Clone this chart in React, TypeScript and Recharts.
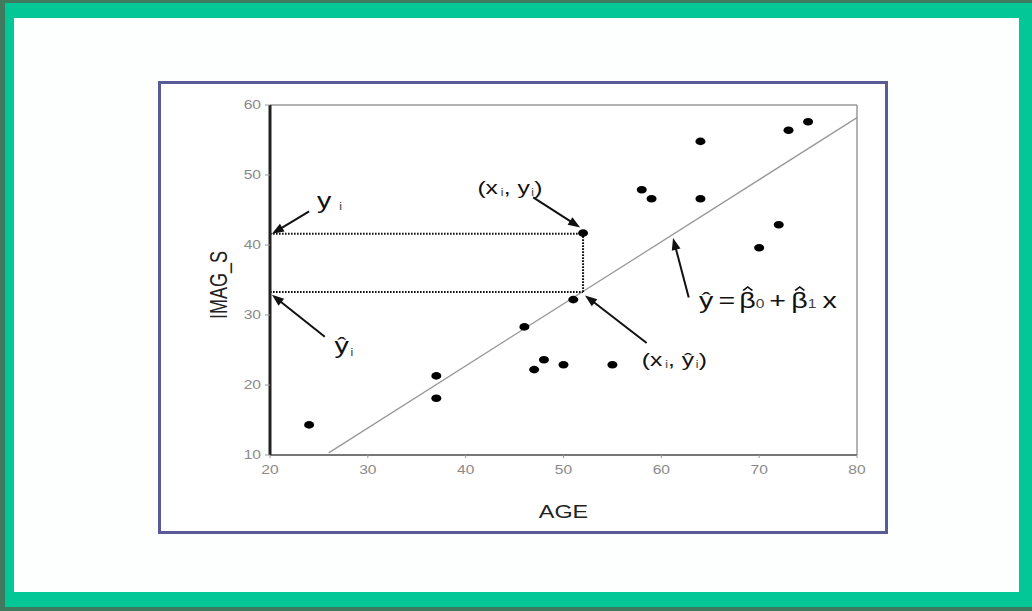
import React from "react";
import { ScatterChart, Scatter, XAxis, YAxis, ReferenceLine, ReferenceDot } from "recharts";

const ages = [24, 37, 37, 46, 47, 48, 50, 51, 52, 55, 58, 59, 64, 64, 70, 72, 73, 75];
const imagS = [14.3, 21.3, 18.1, 28.3, 22.2, 23.6, 22.9, 32.2, 41.7, 22.9, 47.9, 46.6, 54.8, 46.6, 39.6, 42.9, 56.4, 57.6];

const xTicks = [20, 30, 40, 50, 60, 70, 80];
const yTicks = [10, 20, 30, 40, 50, 60];

// fitted line end points
const fitLine = [
  { x: 26, y: 10.3 },
  { x: 80, y: 58.2 },
];

// highlighted observation
const xi = 52;
const yi = 41.6;
const yHat = 33.3;

// arrows: from -> to, in data units
const arrows = [
  { id: "yi", from: [24.0, 44.8], to: [20.2, 41.6] },
  { id: "yhat", from: [25.6, 26.9], to: [20.2, 32.9] },
  { id: "pt", from: [46.9, 46.8], to: [51.7, 42.5] },
  { id: "pthat", from: [58.5, 26.0], to: [52.2, 32.8] },
  { id: "fit", from: [62.8, 32.5], to: [61.2, 41.0] },
];

// text anchors (baseline start), in data units
const labelAnchors = [
  { id: "yi", x: 24.8, y: 45.3 },
  { id: "yhat", x: 26.6, y: 24.6 },
  { id: "pt", x: 41.2, y: 47.3 },
  { id: "pthat", x: 58.0, y: 22.7 },
  { id: "fit", x: 63.85, y: 31.0 },
];

const FONT = "'Liberation Sans', Arial, sans-serif";
const STRETCH = 1.3;

const points = ages.map((x, i) => ({ x, y: imagS[i] }));

function Dot(p: any) {
  return <ellipse cx={p.cx} cy={p.cy} rx={5} ry={3.8} fill="#000" />;
}

function XTick({ x, y, payload }: any) {
  return (
    <text
      transform={`translate(${x},${y + 13.5}) scale(${STRETCH},1)`}
      textAnchor="middle"
      fontSize={12}
      fill="#8a8a8a"
      fontFamily={FONT}
    >
      {payload.value}
    </text>
  );
}

function YTick({ x, y, payload }: any) {
  return (
    <text
      transform={`translate(${x - 1},${y + 4.3}) scale(${STRETCH},1)`}
      textAnchor="end"
      fontSize={12}
      fill="#8a8a8a"
      fontFamily={FONT}
    >
      {payload.value}
    </text>
  );
}

function Arrow(p: any) {
  const { x1, y1, x2, y2 } = p;
  const dx = x2 - x1;
  const dy = y2 - y1;
  const len = Math.hypot(dx, dy) || 1;
  const ux = dx / len;
  const uy = dy / len;
  const L = 12;
  const W = 4.5;
  const bx = x2 - ux * L;
  const by = y2 - uy * L;
  const head = `${x2},${y2} ${bx - uy * W},${by + ux * W} ${bx + uy * W},${by - ux * W}`;
  return (
    <g>
      <line x1={x1} y1={y1} x2={bx + ux * 2} y2={by + uy * 2} stroke="#111" strokeWidth={2} />
      <polygon points={head} fill="#111" />
    </g>
  );
}

const sub = { fontSize: 11, fill: "#555" };

// hat drawn as a small chevron centred at cx
function hat(cx: number) {
  return (
    <path
      d={`M${cx - 3.6},-17.5 L${cx},-21 L${cx + 3.6},-17.5`}
      fill="none"
      stroke="#111"
      strokeWidth={1.4}
    />
  );
}

function Formula() {
  return (
    <g fill="#111">
      <text x={0} fontSize={22}>ŷ</text>
      <text x={15} fontSize={22}>=</text>
      <text x={31} fontSize={22}>β</text>
      {hat(37.5)}
      <text x={43.6} fontSize={12} fill="#444">0</text>
      <text x={54} fontSize={22}>+</text>
      <text x={71} fontSize={22}>β</text>
      {hat(77.5)}
      <text x={83.6} fontSize={12} fill="#444">1</text>
      <text x={95} fontSize={22}>x</text>
    </g>
  );
}

function labelBody(id: string) {
  switch (id) {
    case "yi":
      return (
        <text fontSize={22} fill="#111">
          <tspan>y</tspan>
          <tspan dx={6} dy={2} {...sub}>i</tspan>
        </text>
      );
    case "yhat":
      return (
        <text fontSize={22} fill="#111">
          <tspan>ŷ</tspan>
          <tspan dx={1} dy={3} {...sub}>i</tspan>
        </text>
      );
    case "pt":
      return (
        <text fontSize={19} fill="#111">
          <tspan>(x</tspan>
          <tspan dx={2} dy={2} {...sub}>i</tspan>
          <tspan dy={-2}>, y</tspan>
          <tspan dx={1} dy={2} {...sub}>i</tspan>
          <tspan dy={-2}>)</tspan>
        </text>
      );
    case "pthat":
      return (
        <text fontSize={19} fill="#111">
          <tspan>(x</tspan>
          <tspan dx={2} dy={2} {...sub}>i</tspan>
          <tspan dy={-2}>, ŷ</tspan>
          <tspan dx={1} dy={2} {...sub}>i</tspan>
          <tspan dy={-2}>)</tspan>
        </text>
      );
    default:
      return <Formula />;
  }
}

function makeLabel(id: string) {
  return (p: any) => (
    <g transform={`translate(${p.cx},${p.cy}) scale(${STRETCH},1)`} fontFamily={FONT}>
      {labelBody(id)}
    </g>
  );
}

function YTitle(props: any) {
  const vb = props.viewBox || { x: 49, y: 21, width: 60, height: 350 };
  const cx = vb.x + 9;
  const cy = vb.y + vb.height / 2 + 5;
  return (
    <text
      transform={`translate(${cx},${cy}) scale(${STRETCH},1) rotate(-90)`}
      textAnchor="middle"
      dy={6}
      fontSize={18}
      fill="#222"
      fontFamily={FONT}
    >
      IMAG_S
    </text>
  );
}

function XTitle(props: any) {
  const vb = props.viewBox || { x: 109, y: 371, width: 587, height: 66 };
  return (
    <text
      transform={`translate(${vb.x + vb.width / 2},${vb.y + 63}) scale(${STRETCH},1)`}
      textAnchor="middle"
      fontSize={18}
      fill="#222"
      fontFamily={FONT}
    >
      AGE
    </text>
  );
}

export default function App() {
  return (
    <div style={{ position: "absolute", left: 0, top: 0, width: 1032, height: 611, background: "#3f7a5e", overflow: "hidden" }}>
      <div style={{ position: "absolute", left: 5, top: 3, right: 0, bottom: 4, background: "#03c796" }} />
      <div style={{ position: "absolute", left: 14, top: 18, width: 1005, height: 574, background: "#fdfffe" }} />
      <div
        style={{
          position: "absolute",
          left: 158,
          top: 81,
          width: 730,
          height: 453,
          boxSizing: "border-box",
          border: "3px solid #5a5a96",
          background: "#fff",
        }}
      >
        <ScatterChart width={724} height={447} margin={{ top: 21, right: 28, bottom: 10, left: 49 }}>
          <XAxis
            type="number"
            dataKey="x"
            domain={[20, 80]}
            ticks={xTicks}
            interval={0}
            tickSize={3}
            tickLine={{ stroke: "#999" }}
            axisLine={{ stroke: "#777", strokeWidth: 2 }}
            tick={XTick}
            height={66}
            label={XTitle}
          />
          <YAxis
            type="number"
            dataKey="y"
            domain={[10, 60]}
            ticks={yTicks}
            interval={0}
            tickSize={5}
            tickMargin={3}
            tickLine={{ stroke: "#999" }}
            axisLine={{ stroke: "#222", strokeWidth: 3 }}
            tick={YTick}
            width={60}
            label={YTitle}
          />
          <ReferenceLine y={60} stroke="#9a9a9a" strokeWidth={1.5} />
          <ReferenceLine x={80} stroke="#9a9a9a" strokeWidth={1.5} />
          <ReferenceLine
            segment={fitLine}
            stroke="#999"
            strokeWidth={1.3}
            ifOverflow="visible"
          />
          <ReferenceLine
            segment={[{ x: 20, y: yi }, { x: xi, y: yi }]}
            stroke="#111"
            strokeWidth={2}
            strokeDasharray="1.6 1.4"
            ifOverflow="visible"
          />
          <ReferenceLine
            segment={[{ x: 20, y: yHat }, { x: xi, y: yHat }]}
            stroke="#111"
            strokeWidth={2}
            strokeDasharray="1.6 1.4"
            ifOverflow="visible"
          />
          <ReferenceLine
            segment={[{ x: xi, y: yHat }, { x: xi, y: yi }]}
            stroke="#111"
            strokeWidth={2}
            strokeDasharray="1.6 1.4"
            ifOverflow="visible"
          />
          <Scatter data={points} fill="#000" shape={Dot} isAnimationActive={false} />
          {arrows.map((a) => (
            <ReferenceLine
              key={a.id}
              segment={[{ x: a.from[0], y: a.from[1] }, { x: a.to[0], y: a.to[1] }]}
              ifOverflow="visible"
              shape={Arrow}
            />
          ))}
          {labelAnchors.map((l) => (
            <ReferenceDot key={l.id} x={l.x} y={l.y} r={0} ifOverflow="visible" shape={makeLabel(l.id)} />
          ))}
        </ScatterChart>
      </div>
    </div>
  );
}
